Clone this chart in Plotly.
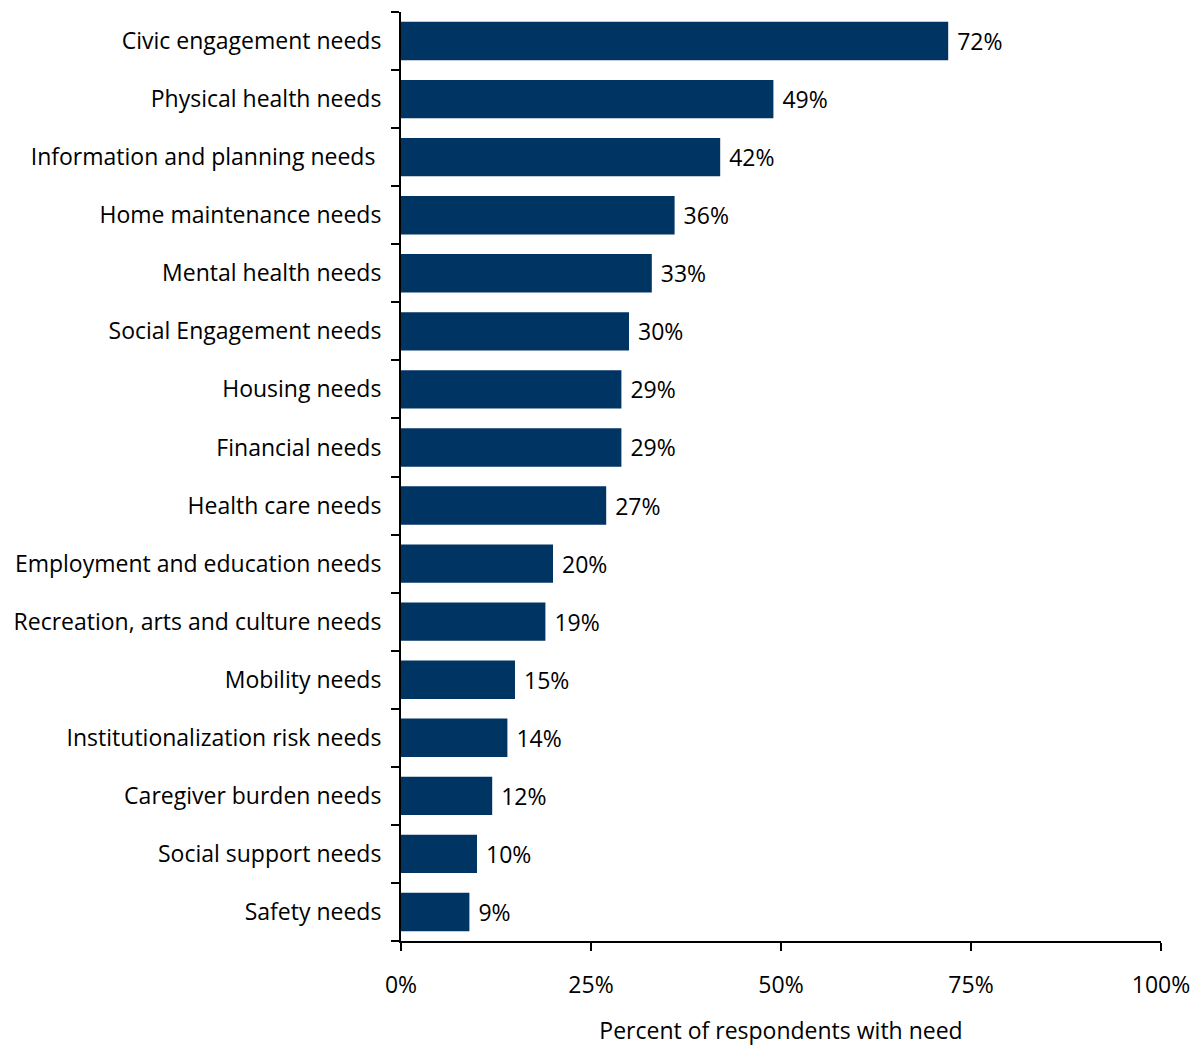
import plotly.graph_objects as go

# Share of respondents reporting each type of need (%)
categories = [
    "Civic engagement needs",
    "Physical health needs",
    "Information and planning needs ",
    "Home maintenance needs",
    "Mental health needs",
    "Social Engagement needs",
    "Housing needs",
    "Financial needs",
    "Health care needs",
    "Employment and education needs",
    "Recreation, arts and culture needs",
    "Mobility needs",
    "Institutionalization risk needs",
    "Caregiver burden needs",
    "Social support needs",
    "Safety needs",
]
values = [72, 49, 42, 36, 33, 30, 29, 29, 27, 20, 19, 15, 14, 12, 10, 9]
x_ticks = [0, 25, 50, 75, 100]
x_tick_labels = ["0%", "25%", "50%", "75%", "100%"]

FONT = "Open Sans, Carlito, Calibri, sans-serif"
SIZE = 23

fig = go.Figure(
    go.Bar(
        y=categories,
        x=values,
        orientation="h",
        marker=dict(color="#003462", line=dict(width=0)),
        width=0.66,
        text=[f"\u00a0{v}%" for v in values],
        textposition="outside",
        textfont=dict(family=FONT, size=SIZE, color="#000000"),
        cliponaxis=False,
    )
)

fig.update_layout(
    width=1199,
    height=1047,
    margin=dict(l=401, r=38, t=12, b=106),
    paper_bgcolor="white",
    plot_bgcolor="white",
    showlegend=False,
    font=dict(family=FONT, size=SIZE, color="#000000"),
)

fig.update_xaxes(
    range=[0, 100],
    tickvals=x_ticks,
    ticktext=x_tick_labels,
    ticks="outside",
    ticklen=8,
    tickwidth=2,
    tickcolor="#000000",
    ticklabelstandoff=14,
    showline=True,
    linewidth=2,
    linecolor="#000000",
    showgrid=False,
    zeroline=False,
    automargin=False,
    title=dict(text="Percent of respondents with need", standoff=24,
               font=dict(family=FONT, size=SIZE)),
    tickfont=dict(family=FONT, size=SIZE),
)

fig.update_yaxes(
    categoryorder="array",
    categoryarray=categories[::-1],
    ticks="outside",
    tickson="boundaries",
    ticklen=8,
    tickwidth=2,
    tickcolor="#000000",
    showline=True,
    linewidth=2,
    linecolor="#000000",
    showgrid=False,
    zeroline=False,
    automargin=False,
    ticklabelstandoff=13,
    tickfont=dict(family=FONT, size=SIZE),
)

fig.write_html("out.html")
